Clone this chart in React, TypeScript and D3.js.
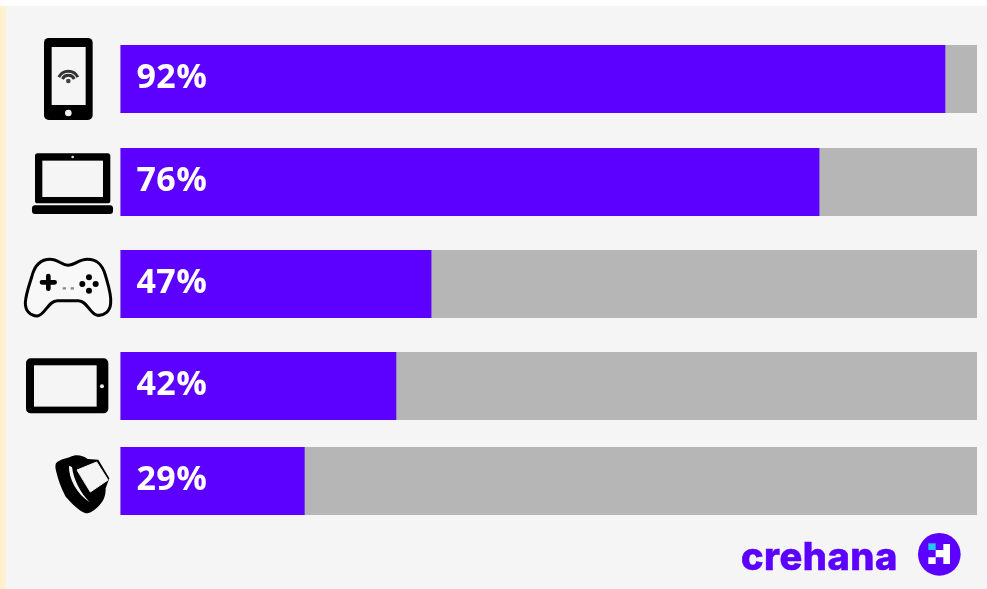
import { useEffect, useRef } from "react";
import * as d3 from "d3";

const devices = ["phone", "laptop", "console", "tablet", "watch"];
const percentLabels = ["92%", "76%", "47%", "42%", "29%"];
// the purple lengths in the picture do not follow the printed percentages,
// so these are read off the bars themselves (share of the grey track)
const filledShare = [96.3, 81.6, 36.3, 32.2, 21.5];

const PURPLE = "#5c00ff";
const TRACK = "#b6b6b6";
const PANEL = "#f5f5f5";

export default function App() {
  const svgRef = useRef<SVGSVGElement>(null);

  useEffect(() => {
    if (!svgRef.current) return;

    const svg = d3.select(svgRef.current);
    svg.selectAll("*").remove();

    // Page background
    svg.append("rect").attr("x", 0).attr("y", 0).attr("width", 987).attr("height", 6).attr("fill", "#fff");
    svg.append("rect").attr("x", 0).attr("y", 6).attr("width", 6).attr("height", 583).attr("fill", "#fff0d0");
    svg.append("rect").attr("x", 6).attr("y", 6).attr("width", 981).attr("height", 583).attr("fill", PANEL);

    const xScale = d3.scaleLinear().domain([0, 100]).range([120.5, 977]);
    // rows are not evenly spaced in the original
    const yScale = d3.scaleOrdinal<string, number>().domain(devices).range([45, 148, 250, 352, 447]);
    const barHeight = 68;

    const rows = svg.selectAll("g.row")
      .data(devices)
      .join("g")
      .attr("class", "row")
      .attr("transform", d => `translate(0,${yScale(d)})`);

    rows.append("rect")
      .attr("x", xScale(0))
      .attr("width", xScale(100) - xScale(0))
      .attr("height", barHeight)
      .attr("fill", TRACK);

    rows.append("rect")
      .attr("x", xScale(0))
      .attr("width", (_, i) => xScale(filledShare[i]) - xScale(0))
      .attr("height", barHeight)
      .attr("fill", PURPLE);

    rows.append("text")
      .attr("x", xScale(0) + 16)
      .attr("y", barHeight / 2 + 8.5)
      .attr("fill", "#fff")
      .attr("font-family", "'Open Sans', sans-serif")
      .attr("font-weight", 700)
      .attr("font-size", 34)
      .attr("letter-spacing", 0.4)
      .text((_, i) => percentLabels[i]);

    // Icons, traced at 3x
    const icons = svg.append("g").attr("transform", "scale(0.3333)");

    // phone
    const phone = icons.append("g");
    phone.append("rect").attr("x", 132).attr("y", 114).attr("width", 146).attr("height", 246).attr("rx", 14).attr("fill", "#000");
    phone.append("rect").attr("x", 155).attr("y", 141).attr("width", 102).attr("height", 174).attr("fill", PANEL);
    phone.append("circle").attr("cx", 205).attr("cy", 339).attr("r", 10).attr("fill", "#f0f0f0");
    [[32, 9], [20, 9]].forEach(([r, w]) => {
      phone.append("path")
        .attr("transform", "translate(205,246)")
        .attr("d", d3.arc()({ innerRadius: r - w / 2, outerRadius: r + w / 2, startAngle: -1.1, endAngle: 1.1 }) as string)
        .attr("fill", "#333");
    });
    phone.append("circle").attr("cx", 205).attr("cy", 243).attr("r", 7).attr("fill", "#444");

    // laptop
    const laptop = icons.append("g");
    laptop.append("rect").attr("x", 105).attr("y", 460).attr("width", 226).attr("height", 150).attr("rx", 8).attr("fill", "#000");
    laptop.append("rect").attr("x", 127).attr("y", 482).attr("width", 182).attr("height", 109).attr("fill", PANEL);
    laptop.append("rect").attr("x", 96).attr("y", 616).attr("width", 243).attr("height", 26).attr("rx", 9).attr("fill", "#000");
    laptop.append("circle").attr("cx", 218).attr("cy", 471).attr("r", 4).attr("fill", "#ddd");

    // gamepad
    const pad = icons.append("g").attr("transform", "translate(0,720)");
    pad.append("path")
      .attr("d", "M205,76 C225,76 235,58 262,58 C295,58 308,78 316,105 C326,140 335,165 332,190 C330,215 312,228 292,226 C270,224 262,182 235,182 L172,182 C145,182 135,226 112,228 C90,228 76,212 76,188 C78,160 88,135 96,108 C104,78 120,58 150,58 C175,58 185,76 205,76 Z")
      .attr("fill", "#f8f8f8")
      .attr("stroke", "#000")
      .attr("stroke-width", 9);
    pad.append("path").attr("d", "M126,127 H164 M145,108 V146").attr("stroke", "#000").attr("stroke-width", 14).attr("stroke-linecap", "round");
    [[267, 112], [267, 152], [247, 132], [287, 132]].forEach(([cx, cy]) => {
      pad.append("circle").attr("cx", cx).attr("cy", cy).attr("r", 9).attr("fill", "#000");
    });
    pad.append("path").attr("d", "M188,145 H198 M212,145 H222").attr("stroke", "#888").attr("stroke-width", 7);

    // tablet
    const tablet = icons.append("g").attr("transform", "translate(0,720)");
    tablet.append("rect").attr("x", 78).attr("y", 355).attr("width", 247).attr("height", 165).attr("rx", 14).attr("fill", "#000");
    tablet.append("rect").attr("x", 102).attr("y", 376).attr("width", 188).attr("height", 124).attr("fill", PANEL);
    tablet.append("circle").attr("cx", 306).attr("cy", 439).attr("r", 6).attr("fill", "#eee");

    // watch
    const watch = svg.append("g").attr("transform", "translate(45,445) scale(0.3333)");
    watch.append("path")
      .attr("d", "M33,55 C45,42 65,40 75,36 C90,28 110,28 128,42 L160,44 L193,100 L182,130 C182,150 178,165 164,180 C150,195 135,206 122,205 C105,200 85,180 62,155 C48,130 40,105 35,85 C31,72 30,62 33,55 Z")
      .attr("fill", "#000");
    watch.append("path")
      .attr("d", "M72,62 C70,100 95,145 134,172 C105,140 86,105 81,66 Z")
      .attr("fill", PANEL);
    watch.append("path")
      .attr("d", "M96,75 L155,51 L189,105 L136,141 Z")
      .attr("fill", PANEL)
      .attr("stroke", PANEL)
      .attr("stroke-width", 3)
      .attr("stroke-linejoin", "round");

    // Logo
    svg.append("text")
      .attr("x", 741)
      .attr("y", 569.5)
      .attr("fill", PURPLE)
      .attr("stroke", PURPLE)
      .attr("stroke-width", 0.5)
      .attr("font-family", "Inter, sans-serif")
      .attr("font-weight", 800)
      .attr("font-size", 38)
      .attr("letter-spacing", 0.5)
      .text("crehana");

    const badge = svg.append("g").attr("transform", "translate(910,525) scale(0.3333)");
    badge.append("circle").attr("cx", 88).attr("cy", 88).attr("r", 64).attr("fill", PURPLE);
    badge.append("rect").attr("x", 55).attr("y", 55).attr("width", 22).attr("height", 20).attr("fill", "#20c8f0");
    badge.append("path")
      .attr("d", "M55,97 H77 V117 H55 Z M77,75 H100 V57 H120 V117 H100 V97 H77 Z")
      .attr("fill", "#fff");
  }, []);

  return (
    <svg
      ref={svgRef}
      width={987}
      height={589}
      viewBox="0 0 987 589"
      style={{ position: "absolute", left: 0, top: 0, background: "#fff", filter: "blur(0.6px)" }}
    />
  );
}
